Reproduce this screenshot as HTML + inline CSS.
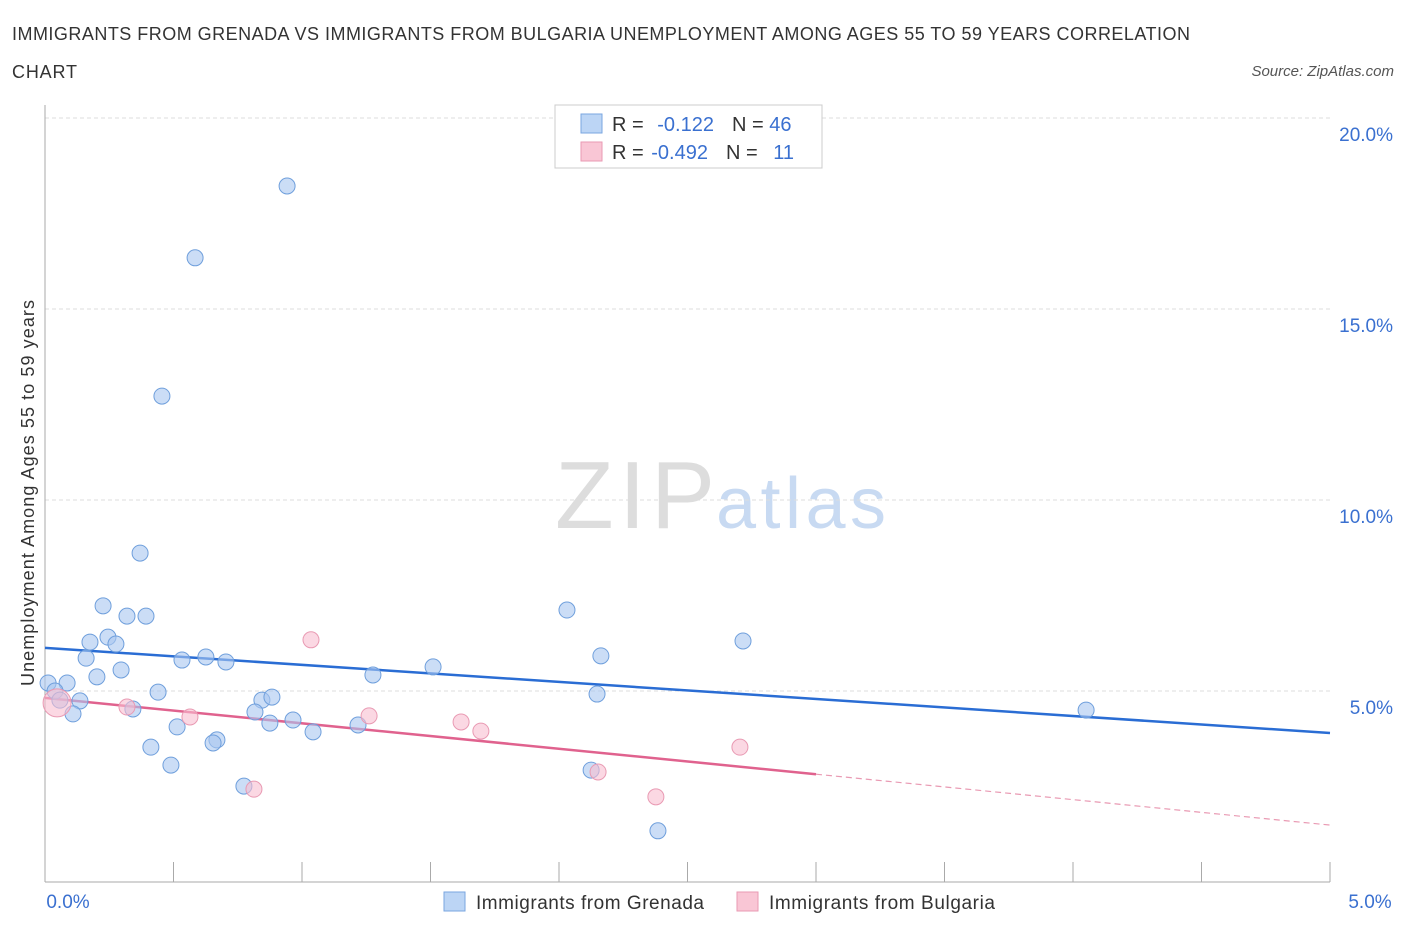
<!DOCTYPE html>
<html><head><meta charset="utf-8"><style>
body{margin:0;background:#fff;font-family:"Liberation Sans",sans-serif;}
svg text{font-family:"Liberation Sans",sans-serif;}
</style></head><body>
<svg width="1406" height="930" xmlns="http://www.w3.org/2000/svg">
<text x="12" y="40" font-size="18" fill="#333" textLength="1178">IMMIGRANTS FROM GRENADA VS IMMIGRANTS FROM BULGARIA UNEMPLOYMENT AMONG AGES 55 TO 59 YEARS CORRELATION</text>
<text x="12" y="78" font-size="18" fill="#333" textLength="65">CHART</text>
<text x="1394" y="76" font-size="15" fill="#555" font-style="italic" text-anchor="end">Source: ZipAtlas.com</text>
<g>
<text x="555" y="528" font-size="96" fill="#ddd" font-family="Liberation Serif" textLength="160">ZIP</text>
<text x="716" y="528" font-size="72" fill="#c8daf2" textLength="170">atlas</text>
</g>
<g id="grid"></g>
<g id="axes"></g>
<g id="lines"></g>
<g id="pts"></g>
<text transform="translate(34,493) rotate(-90)" font-size="18" fill="#333" text-anchor="middle" textLength="386">Unemployment Among Ages 55 to 59 years</text>
<g>
<rect x="555" y="105" width="267" height="63" fill="#fff" stroke="#ccc"/>
<rect x="581" y="114" width="21" height="19" fill="#bcd5f5" stroke="#7aa6e0"/>
<rect x="581" y="142" width="21" height="19" fill="#f9c6d5" stroke="#e99ab3"/>
<text x="612" y="131" font-size="20" fill="#333">R = <tspan fill="#3a70d0" dx="8">-0.122</tspan><tspan dx="18" fill="#333">N = </tspan><tspan fill="#3a70d0">46</tspan></text>
<text x="612" y="159" font-size="20" fill="#333">R = <tspan fill="#3a70d0" dx="2">-0.492</tspan><tspan dx="18" fill="#333">N = </tspan><tspan fill="#3a70d0" dx="10">11</tspan></text>
</g>
<g>
<rect x="444" y="892" width="21" height="19" fill="#bcd5f5" stroke="#7aa6e0"/>
<text x="476" y="909" font-size="19" fill="#333" textLength="228">Immigrants from Grenada</text>
<rect x="737" y="892" width="21" height="19" fill="#f9c6d5" stroke="#e99ab3"/>
<text x="769" y="909" font-size="19" fill="#333" textLength="226">Immigrants from Bulgaria</text>
</g>
</svg>
<script>
const blueX=[0.942,0.584,0.455,0.370,0.226,0.319,0.393,0.245,0.175,0.276,0.160,0.533,0.626,0.704,0.296,0.202,0.086,0.012,0.039,0.440,0.136,0.058,0.342,0.109,0.844,0.883,0.817,0.875,0.965,1.043,0.514,0.669,0.654,0.412,0.490,0.774,1.276,1.510,1.218,2.031,2.163,2.148,2.125,2.385,2.716,4.051];
const blueY=[18.22,16.34,12.72,8.61,7.23,6.96,6.96,6.41,6.28,6.23,5.86,5.81,5.89,5.76,5.55,5.37,5.21,5.21,5.00,4.97,4.74,4.76,4.53,4.40,4.76,4.84,4.45,4.16,4.24,3.93,4.06,3.72,3.64,3.53,3.06,2.51,5.42,5.63,4.11,7.12,5.92,4.92,2.93,1.34,6.31,4.50];
const pinkX=[0.047,1.035,0.319,0.564,1.261,1.619,1.696,0.813,2.152,2.377,2.704];
const pinkY=[4.69,6.34,4.58,4.32,4.35,4.19,3.95,2.43,2.88,2.23,3.53];
const blueTrend=[6.13,3.90];
const pinkTrend=[4.82,1.49];
const pinkSolidEnd=3.0;
const yTicks=[5,10,15,20];
const yTickLabels=["5.0%","10.0%","15.0%","20.0%"];
const xTicks=[0,0.5,1,1.5,2,2.5,3,3.5,4,4.5,5];
const NS="http://www.w3.org/2000/svg";
const X=v=>45+v*257;
const Y=v=>882-v*38.2;
function mk(t,a,p){const e=document.createElementNS(NS,t);for(const k in a)e.setAttribute(k,a[k]);document.getElementById(p).appendChild(e);return e;}
yTicks.forEach((t,i)=>{
 const g=mk('line',{x1:45,x2:1330,y1:Y(t),y2:Y(t),stroke:'#ddd','stroke-dasharray':'4,3'},'grid');
 
 
 const l=mk('text',{x:1393,y:Y(t)+23,'font-size':19,fill:'#3a70d0','text-anchor':'end'},'axes');
 l.textContent=yTickLabels[i];
 
 
});
const ax=mk('line',{x1:45,x2:45,y1:105,y2:882,stroke:'#aaa'},'axes');


const bx=mk('line',{x1:45,x2:1330,y1:882,y2:882,stroke:'#aaa'},'axes');


xTicks.forEach(t=>{const e=mk('line',{x1:X(t),x2:X(t),y1:862,y2:882,stroke:'#aaa'},'axes');
 
 });
[["0.0%",68],["5.0%",1370]].forEach(([s,x])=>{const e=mk('text',{x:x,y:908,'font-size':19,fill:'#3a70d0','text-anchor':'middle'},'axes');e.textContent=s;
 
 });
const bl=mk('line',{x1:X(0),y1:Y(blueTrend[0]),x2:X(5),y2:Y(blueTrend[1]),stroke:'#2a6dd4','stroke-width':2.5},'lines');


const ps=(pinkTrend[1]-pinkTrend[0])/5, pe=pinkTrend[0]+ps*pinkSolidEnd;
const pl=mk('line',{x1:X(0),y1:Y(pinkTrend[0]),x2:X(pinkSolidEnd),y2:Y(pe),stroke:'#e0628e','stroke-width':2.5},'lines');


const pd=mk('line',{x1:X(pinkSolidEnd),y1:Y(pe),x2:X(5),y2:Y(pinkTrend[1]),stroke:'#e99ab3','stroke-width':1.2,'stroke-dasharray':'6,4'},'lines');


blueX.forEach((x,i)=>{const c=mk('circle',{cx:X(x),cy:Y(blueY[i]),r:8,fill:'rgba(168,198,240,0.6)',stroke:'#6f9fdc','stroke-width':1},'pts');
 
 });
pinkX.forEach((x,i)=>{const c=mk('circle',{cx:X(x),cy:Y(pinkY[i]),r:i==0?14:8,fill:'rgba(248,190,208,0.6)',stroke:'#e99ab3','stroke-width':1},'pts');
 
 });
</script>
</body></html>
